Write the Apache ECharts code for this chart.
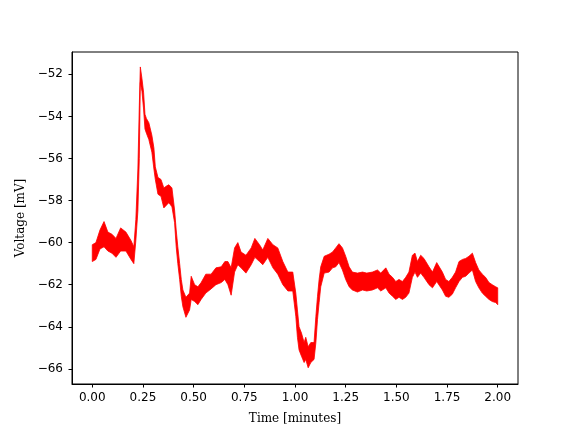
<!DOCTYPE html>
<html>
<head>
<meta charset="utf-8">
<script src="https://cdn.jsdelivr.net/npm/echarts@6/dist/echarts.min.js"></script>
<style>
  html, body { margin: 0; padding: 0; background: #fff; }
  #chart { width: 576px; height: 432px; }
</style>
</head>
<body>
<div id="chart"></div>
<script>
// time in minutes, with upper / lower edge of the noisy voltage trace (mV)
const timeMin = [
  0.000, 0.018, 0.038, 0.058, 0.077, 0.097, 0.117, 0.140, 0.166, 0.191,
  0.205, 0.215, 0.225, 0.232, 0.237, 0.245, 0.253, 0.260, 0.267, 0.279,
  0.294, 0.304, 0.311, 0.324, 0.339, 0.353, 0.368, 0.378, 0.393, 0.406,
  0.414, 0.422, 0.431, 0.439, 0.447, 0.462, 0.480, 0.488, 0.505, 0.521,
  0.537, 0.560, 0.586, 0.610, 0.636, 0.654, 0.669, 0.685, 0.702, 0.718,
  0.734, 0.758, 0.784, 0.802, 0.825, 0.841, 0.866, 0.891, 0.915, 0.940,
  0.965, 0.989, 1.004, 1.012, 1.020, 1.032, 1.045, 1.053, 1.065, 1.078,
  1.094, 1.103, 1.111, 1.119, 1.127, 1.144, 1.168, 1.185, 1.201, 1.217,
  1.234, 1.250, 1.267, 1.283, 1.308, 1.333, 1.354, 1.382, 1.407, 1.423,
  1.448, 1.464, 1.481, 1.497, 1.513, 1.530, 1.546, 1.562, 1.579, 1.592,
  1.604, 1.620, 1.636, 1.661, 1.678, 1.699, 1.727, 1.743, 1.759, 1.776,
  1.792, 1.809, 1.826, 1.842, 1.858, 1.875, 1.891, 1.907, 1.924, 1.940,
  1.957, 1.973, 1.990, 2.000
];
const upperMv = [
  -60.1, -60.0, -59.4, -59.0, -59.5, -59.6, -59.8, -59.3, -59.5, -59.9,
  -60.2, -58.9, -56.5, -53.5, -51.65, -52.2, -52.85, -53.9, -54.1, -54.3,
  -54.9, -55.5, -56.4, -56.9, -57.0, -57.4, -57.3, -57.25, -57.4, -58.45,
  -59.4, -60.2, -61.0, -61.75, -62.25, -62.6, -62.4, -61.6, -62.0, -62.1,
  -61.9, -61.5, -61.5, -61.2, -61.15, -60.9, -60.9, -61.2, -60.25, -60.0,
  -60.45, -60.6, -60.25, -59.8, -60.1, -60.35, -59.8, -60.1, -60.25, -60.9,
  -61.4, -61.4, -62.4, -63.2, -64.0, -64.3, -64.75, -64.5, -64.95, -64.75,
  -64.75, -63.5, -62.55, -61.75, -61.15, -60.65, -60.55, -60.45, -60.25, -60.05,
  -60.25, -60.65, -61.15, -61.4, -61.45, -61.4, -61.45, -61.4, -61.3, -61.45,
  -61.2, -61.5, -61.65, -61.85, -61.75, -61.85, -61.65, -61.4, -60.6, -60.5,
  -60.9, -60.6, -60.75, -61.15, -61.4, -60.95, -61.4, -61.75, -61.85, -61.65,
  -61.4, -60.9, -60.8, -60.75, -60.65, -60.5, -60.95, -61.3, -61.5, -61.65,
  -61.9, -62.0, -62.1, -62.15
];
const lowerMv = [
  -60.9, -60.8, -60.3, -60.2, -60.4, -60.5, -60.7, -60.4, -60.4, -60.8,
  -61.0, -59.9, -58.5, -56.0, -52.4, -52.8, -53.65, -54.6, -54.8, -55.1,
  -55.7, -56.5, -57.0, -57.7, -57.8, -58.35, -58.2, -58.1, -58.3, -59.05,
  -60.2, -61.0, -61.75, -62.55, -63.05, -63.55, -63.2, -62.7, -62.8, -62.95,
  -62.7, -62.4, -62.2, -62.0, -61.9, -61.75, -62.0, -62.5, -61.4, -61.05,
  -61.2, -61.45, -61.05, -60.7, -60.9, -61.05, -60.7, -61.2, -61.5, -62.0,
  -62.3, -62.3, -63.5, -64.5, -65.1, -65.4, -65.7, -65.55, -65.95, -65.7,
  -65.55, -64.75, -63.65, -62.85, -62.1, -61.45, -61.4, -61.2, -61.15, -60.95,
  -61.3, -61.75, -62.1, -62.25, -62.35, -62.25, -62.3, -62.25, -62.15, -62.3,
  -62.15, -62.4, -62.55, -62.7, -62.6, -62.7, -62.6, -62.4, -61.65, -61.4,
  -61.65, -61.45, -61.65, -62.0, -62.15, -61.85, -62.25, -62.55, -62.6, -62.45,
  -62.15, -61.85, -61.65, -61.6, -61.45, -61.3, -61.85, -62.15, -62.4, -62.55,
  -62.7, -62.8, -62.85, -62.95
];
const xTicks = [0, 0.25, 0.5, 0.75, 1.0, 1.25, 1.5, 1.75, 2.0];
const yTicks = [-66, -64, -62, -60, -58, -56, -54, -52];

const chart = echarts.init(document.getElementById('chart'), null, { renderer: 'canvas' });

const tickFont = { fontFamily: 'DejaVu Sans', fontSize: 12, color: '#000' };
const nameFont = { fontFamily: 'DejaVu Serif', fontSize: 12, color: '#000' };

const option = {
  animation: false,
  backgroundColor: '#fff',
  grid: {
    left: 72, right: 58, top: 52, bottom: 48,
    show: true, borderColor: '#000', borderWidth: 1, backgroundColor: 'transparent'
  },
  xAxis: {
    type: 'value',
    min: -0.1,
    max: 2.1,
    name: 'Time [minutes]',
    nameLocation: 'middle',
    nameGap: 29,
    nameTextStyle: nameFont,
    axisLine: { show: true, onZero: false, lineStyle: { color: '#000', width: 1 } },
    axisTick: { show: true, length: 3.5, inside: false, customValues: xTicks, lineStyle: { color: '#000' } },
    axisLabel: { ...tickFont, margin: 8, customValues: xTicks, formatter: v => v.toFixed(2) },
    splitLine: { show: false }
  },
  yAxis: {
    type: 'value',
    min: -66.72,
    max: -50.94,
    name: 'Voltage [mV]',
    nameLocation: 'middle',
    nameGap: 40,
    nameTextStyle: nameFont,
    axisLine: { show: true, onZero: false, lineStyle: { color: '#000', width: 1 } },
    axisTick: { show: true, length: 3.5, inside: false, customValues: yTicks, lineStyle: { color: '#000' } },
    axisLabel: { ...tickFont, margin: 9, customValues: yTicks, formatter: v => '\u2212' + Math.abs(v) },
    splitLine: { show: false }
  },
  series: [{
    type: 'custom',
    data: [[timeMin[0], upperMv[0]]],
    renderItem: (params, api) => {
      const pts = [];
      for (let i = 0; i < timeMin.length; i++) pts.push(api.coord([timeMin[i], upperMv[i]]));
      for (let i = timeMin.length - 1; i >= 0; i--) pts.push(api.coord([timeMin[i], lowerMv[i]]));
      return {
        type: 'polygon',
        shape: { points: pts },
        style: { fill: '#ff0000', stroke: '#ff0000', lineWidth: 0.8 }
      };
    }
  }]
};

chart.setOption(option);
</script>
</body>
</html>
